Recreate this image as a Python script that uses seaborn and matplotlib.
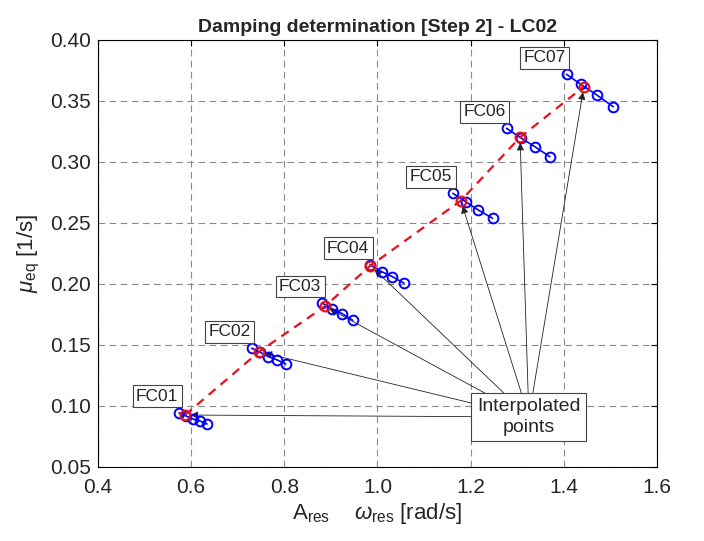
import matplotlib
matplotlib.use("Agg")
import matplotlib.pyplot as plt
import seaborn as sns
import pandas as pd

# ---- data ----
fc_labels = ['FC01', 'FC02', 'FC03', 'FC04', 'FC05', 'FC06', 'FC07']
blue_x = [
    [0.574, 0.589, 0.604, 0.619, 0.634],
    [0.730, 0.747, 0.766, 0.785, 0.803],
    [0.881, 0.902, 0.924, 0.947],
    [0.984, 1.009, 1.032, 1.057],
    [1.162, 1.189, 1.216, 1.247],
    [1.277, 1.308, 1.338, 1.370],
    [1.406, 1.436, 1.471, 1.506],
]
blue_y = [
    [0.0943, 0.0918, 0.0893, 0.0877, 0.0852],
    [0.1473, 0.1443, 0.1404, 0.1377, 0.1344],
    [0.1844, 0.1798, 0.1757, 0.1702],
    [0.2158, 0.2101, 0.2060, 0.2006],
    [0.2743, 0.2675, 0.2607, 0.2539],
    [0.3276, 0.3197, 0.3125, 0.3043],
    [0.3719, 0.3637, 0.3549, 0.3453],
]
red_x = [0.587, 0.746, 0.887, 0.985, 1.179, 1.306, 1.443]
red_y = [0.0926, 0.1445, 0.1817, 0.2150, 0.2683, 0.3202, 0.3617]
note_text = 'Interpolated\npoints'
note_pos = (1.325, 0.091)
x_ticks = [0.4, 0.6, 0.8, 1.0, 1.2, 1.4, 1.6]
y_ticks = [0.05, 0.10, 0.15, 0.20, 0.25, 0.30, 0.35, 0.40]

sns.set_style('white')
plt.rcParams['font.family'] = ['Liberation Sans', 'DejaVu Sans']
plt.rcParams['mathtext.fontset'] = 'custom'
plt.rcParams['mathtext.rm'] = 'Liberation Sans'
plt.rcParams['mathtext.it'] = 'Liberation Sans:italic'

fig = plt.figure(figsize=(7.04, 5.41), dpi=100)
ax = fig.add_axes([0.1392, 0.1368, 0.7940, 0.7893])

# blue clusters
rows = []
for lab, xs, ys in zip(fc_labels, blue_x, blue_y):
    for xv, yv in zip(xs, ys):
        rows.append({'fc': lab, 'x': xv, 'y': yv})
df_blue = pd.DataFrame(rows)
for lab in fc_labels:
    sub = df_blue[df_blue.fc == lab]
    sns.lineplot(data=sub, x='x', y='y', ax=ax, color='#0000ff', lw=1.2,
                 marker='o', markersize=7, markerfacecolor='none',
                 markeredgecolor='#0000ff', markeredgewidth=1.4,
                 sort=False, estimator=None, zorder=3)

# red dashed line through interpolated points
df_red = pd.DataFrame({'x': red_x, 'y': red_y})
sns.lineplot(data=df_red, x='x', y='y', ax=ax, color='#e8101a', lw=1.6,
             linestyle=(0, (4, 3)), sort=False, estimator=None, zorder=4)
ax.plot(df_red.x, df_red.y, linestyle='none', marker='o', markersize=7,
        markerfacecolor='none', markeredgecolor='#e8101a', markeredgewidth=1.6,
        zorder=5)

# arrows from note to red points
for xv, yv in zip(red_x, red_y):
    ax.annotate('', xy=(xv, yv), xytext=note_pos,
                arrowprops=dict(arrowstyle='-|>', color='#222222', lw=0.6,
                                shrinkA=0, shrinkB=4, mutation_scale=11),
                zorder=2)

ax.text(note_pos[0], note_pos[1], note_text, ha='center', va='center',
        fontsize=14, zorder=10, linespacing=1.25,
        bbox=dict(boxstyle='square,pad=0.3', fc='white', ec='#444444', lw=0.8))

# FC labels anchored at first point of each cluster
for lab, xs, ys in zip(fc_labels, blue_x, blue_y):
    ax.annotate(lab, xy=(xs[0], ys[0]), xytext=(-0.5, 6.5),
                textcoords='offset points', ha='right', va='bottom',
                fontsize=12.5, zorder=10,
                bbox=dict(boxstyle='square,pad=0.2', fc='white', ec='#444444', lw=0.8))

ax.set_xlim(0.4, 1.6)
ax.set_ylim(0.05, 0.40)
ax.set_xticks(x_ticks)
ax.set_yticks(y_ticks)
ax.set_xticklabels([f'{v:.1f}' for v in x_ticks])
ax.set_yticklabels([f'{v:.2f}' for v in y_ticks])
ax.tick_params(direction='in', top=True, right=True, length=4, labelsize=15,
               width=0.8, color='black')
ax.tick_params(axis='x', pad=8)
ax.tick_params(axis='y', pad=5)
ax.grid(True, linestyle=(0, (6, 4)), color='#8a8a8a', lw=0.8)
for s in ax.spines.values():
    s.set_color('black')
    s.set_linewidth(0.8)

ax.set_xlabel(r'A$_{\mathrm{res}}$    $\omega_{\mathrm{res}}$ [rad/s]', fontsize=16, labelpad=3)
ax.set_ylabel(r'$\mu_{\mathrm{eq}}$ [1/s]', fontsize=16, labelpad=6)
ax.set_title('Damping determination [Step 2] - LC02', fontsize=14, fontweight='bold', pad=6)

fig.savefig('out.png', dpi=100)
